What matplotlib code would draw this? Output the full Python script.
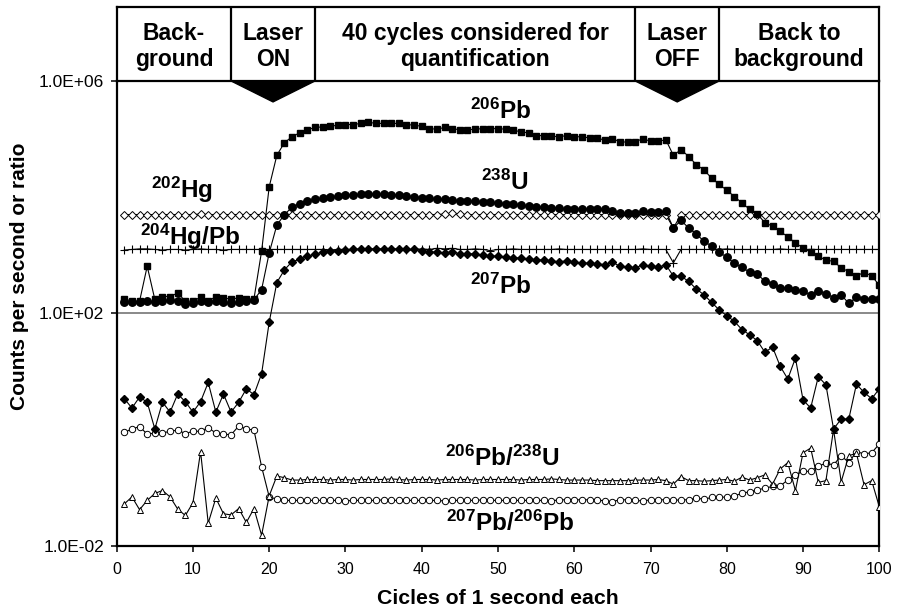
import numpy as np
import matplotlib
matplotlib.use("Agg")
import matplotlib.pyplot as plt
from matplotlib.patches import Polygon

# ---------------- data (log10 of counts per second / ratio) ----------------
cycles = list(range(1, 101))

pb206_log = [2.25, 2.21, 2.21, 2.81, 2.24, 2.29, 2.29, 2.35, 2.21, 2.21,
             2.28, 2.21, 2.29, 2.27, 2.24, 2.27, 2.24, 2.25, 3.07, 4.18,
             4.72, 4.94, 5.04, 5.11, 5.16, 5.20, 5.21, 5.22, 5.24, 5.25,
             5.25, 5.27, 5.29, 5.27, 5.27, 5.27, 5.27, 5.25, 5.24, 5.22,
             5.18, 5.17, 5.20, 5.18, 5.16, 5.16, 5.17, 5.18, 5.18, 5.18,
             5.17, 5.16, 5.12, 5.11, 5.06, 5.06, 5.05, 5.04, 5.06, 5.04,
             5.04, 5.02, 5.02, 4.98, 5.01, 4.95, 4.95, 4.95, 5.01, 4.96,
             4.96, 4.99, 4.72, 4.82, 4.70, 4.56, 4.47, 4.33, 4.22, 4.12,
             4.01, 3.90, 3.79, 3.71, 3.56, 3.50, 3.41, 3.32, 3.21, 3.13,
             3.05, 2.99, 2.91, 2.90, 2.78, 2.72, 2.65, 2.70, 2.65, 2.48]

u238_log = [2.20, 2.19, 2.20, 2.22, 2.19, 2.21, 2.23, 2.22, 2.16, 2.17,
            2.21, 2.20, 2.22, 2.19, 2.18, 2.20, 2.21, 2.23, 2.41, 3.04,
            3.52, 3.70, 3.83, 3.89, 3.93, 3.96, 3.98, 4.00, 4.02, 4.03,
            4.04, 4.05, 4.05, 4.05, 4.05, 4.04, 4.03, 4.02, 4.01, 3.99,
            3.98, 3.97, 3.96, 3.95, 3.94, 3.93, 3.93, 3.92, 3.91, 3.90,
            3.89, 3.88, 3.86, 3.84, 3.83, 3.83, 3.82, 3.81, 3.80, 3.79,
            3.80, 3.79, 3.79, 3.79, 3.76, 3.72, 3.72, 3.72, 3.76, 3.74,
            3.74, 3.76, 3.47, 3.60, 3.47, 3.37, 3.24, 3.16, 3.05, 2.97,
            2.86, 2.79, 2.71, 2.68, 2.55, 2.51, 2.44, 2.44, 2.41, 2.38,
            2.32, 2.38, 2.34, 2.27, 2.32, 2.17, 2.28, 2.25, 2.25, 2.24]

pb207_log = [0.53, 0.37, 0.56, 0.47, 0.01, 0.47, 0.30, 0.61, 0.48, 0.30,
             0.48, 0.81, 0.30, 0.61, 0.30, 0.47, 0.70, 0.60, 0.96, 1.85,
             2.53, 2.75, 2.89, 2.93, 2.98, 3.02, 3.05, 3.07, 3.08, 3.09,
             3.10, 3.11, 3.11, 3.11, 3.11, 3.11, 3.11, 3.10, 3.10, 3.08,
             3.06, 3.05, 3.04, 3.05, 3.03, 3.03, 3.02, 3.00, 2.99, 2.98,
             2.97, 2.96, 2.95, 2.93, 2.92, 2.92, 2.90, 2.89, 2.90, 2.88,
             2.87, 2.86, 2.85, 2.84, 2.88, 2.81, 2.79, 2.78, 2.84, 2.81,
             2.79, 2.84, 2.64, 2.64, 2.55, 2.42, 2.32, 2.19, 2.06, 1.96,
             1.86, 1.72, 1.63, 1.53, 1.33, 1.42, 1.09, 0.87, 1.23, 0.51,
             0.37, 0.91, 0.77, 0.01, 0.18, 0.18, 0.78, 0.64, 0.53, 0.70]

hg202_log = [3.70, 3.70, 3.70, 3.70, 3.70, 3.70, 3.70, 3.70, 3.70, 3.70,
             3.71, 3.70, 3.70, 3.70, 3.70, 3.70, 3.70, 3.70, 3.70, 3.70,
             3.70, 3.70, 3.70, 3.70, 3.70, 3.70, 3.70, 3.69, 3.70, 3.70,
             3.70, 3.70, 3.70, 3.70, 3.70, 3.70, 3.70, 3.70, 3.70, 3.70,
             3.70, 3.70, 3.71, 3.72, 3.71, 3.70, 3.70, 3.70, 3.70, 3.70,
             3.70, 3.70, 3.70, 3.70, 3.70, 3.70, 3.70, 3.70, 3.70, 3.70,
             3.70, 3.70, 3.70, 3.70, 3.70, 3.70, 3.70, 3.70, 3.70, 3.70,
             3.70, 3.70, 3.47, 3.70, 3.70, 3.70, 3.70, 3.70, 3.70, 3.70,
             3.70, 3.70, 3.70, 3.70, 3.70, 3.70, 3.70, 3.70, 3.70, 3.70,
             3.70, 3.70, 3.70, 3.70, 3.70, 3.70, 3.70, 3.70, 3.70, 3.70]

hg204pb_log = [3.09, 3.10, 3.11, 3.11, 3.10, 3.09, 3.10, 3.10, 3.09, 3.10,
               3.11, 3.10, 3.10, 3.09, 3.10, 3.10, 3.10, 3.10, 3.10, 3.10,
               3.10, 3.10, 3.10, 3.10, 3.10, 3.10, 3.10, 3.09, 3.10, 3.10,
               3.10, 3.10, 3.10, 3.10, 3.10, 3.10, 3.10, 3.09, 3.10, 3.11,
               3.10, 3.12, 3.11, 3.12, 3.10, 3.10, 3.11, 3.10, 3.08, 3.10,
               3.10, 3.11, 3.10, 3.10, 3.10, 3.10, 3.10, 3.11, 3.10, 3.10,
               3.10, 3.10, 3.10, 3.10, 3.10, 3.10, 3.10, 3.10, 3.11, 3.10,
               3.10, 3.10, 2.87, 3.10, 3.10, 3.10, 3.10, 3.10, 3.10, 3.11,
               3.10, 3.10, 3.10, 3.10, 3.10, 3.10, 3.11, 3.10, 3.10, 3.10,
               3.10, 3.10, 3.10, 3.10, 3.10, 3.10, 3.10, 3.10, 3.10, 3.10]

pb206_u238_log = [-1.28, -1.16, -1.38, -1.22, -1.10, -1.05, -1.16, -1.37, -1.48, -1.26,
                  -0.38, -1.61, -1.18, -1.45, -1.47, -1.36, -1.60, -1.36, -1.82, -1.14,
                  -0.80, -0.83, -0.87, -0.87, -0.86, -0.86, -0.86, -0.87, -0.86, -0.86,
                  -0.87, -0.86, -0.86, -0.86, -0.86, -0.85, -0.86, -0.87, -0.86, -0.86,
                  -0.86, -0.87, -0.86, -0.86, -0.86, -0.86, -0.87, -0.86, -0.86, -0.86,
                  -0.86, -0.86, -0.87, -0.86, -0.86, -0.86, -0.85, -0.86, -0.87, -0.87,
                  -0.87, -0.87, -0.88, -0.88, -0.88, -0.88, -0.88, -0.87, -0.87, -0.87,
                  -0.86, -0.88, -0.94, -0.81, -0.88, -0.88, -0.89, -0.88, -0.87, -0.86,
                  -0.89, -0.82, -0.87, -0.83, -0.78, -0.94, -0.68, -0.57, -1.05, -0.40,
                  -0.32, -0.91, -0.88, 0.00, -0.90, -0.45, -0.41, -0.95, -0.88, -1.33]

pb207_pb206_log = [-0.05, 0.01, 0.05, -0.08, -0.06, -0.06, -0.03, -0.01, -0.07, -0.03,
                   -0.03, 0.03, -0.06, -0.08, -0.09, 0.06, 0.01, -0.01, -0.64, -1.16,
                   -1.20, -1.22, -1.22, -1.22, -1.22, -1.22, -1.22, -1.22, -1.22, -1.23,
                   -1.22, -1.22, -1.22, -1.22, -1.21, -1.22, -1.22, -1.22, -1.22, -1.22,
                   -1.22, -1.22, -1.23, -1.22, -1.22, -1.22, -1.22, -1.21, -1.22, -1.22,
                   -1.22, -1.22, -1.22, -1.22, -1.22, -1.22, -1.23, -1.21, -1.21, -1.21,
                   -1.21, -1.21, -1.21, -1.23, -1.24, -1.21, -1.21, -1.22, -1.23, -1.21,
                   -1.21, -1.21, -1.22, -1.21, -1.21, -1.18, -1.20, -1.17, -1.17, -1.16,
                   -1.14, -1.10, -1.07, -1.04, -1.01, -0.98, -0.97, -0.87, -0.78, -0.72,
                   -0.72, -0.63, -0.58, -0.61, -0.45, -0.57, -0.38, -0.42, -0.40, -0.25]

y_ticks = [1e-2, 1e2, 1e6]
y_ticklabels = ["1.0E-02", "1.0E+02", "1.0E+06"]
x_ticks = [0, 10, 20, 30, 40, 50, 60, 70, 80, 90, 100]

header_bounds = [0, 15, 26, 68, 79, 100]
header_labels = ["Back-\nground", "Laser\nON", "40 cycles considered for\nquantification",
                 "Laser\nOFF", "Back to\nbackground"]
laser_segments = [(15, 26), (68, 79)]   # header cells that carry a black arrow

series_labels = [
    ("$^{206}$Pb", 50.3, 5.48),
    ("$^{238}$U", 50.9, 4.25),
    ("$^{202}$Hg", 8.5, 4.13),
    ("$^{204}$Hg/Pb", 9.6, 3.31),
    ("$^{207}$Pb", 50.3, 2.46),
    ("$^{206}$Pb/$^{238}$U", 50.5, -0.49),
    ("$^{207}$Pb/$^{206}$Pb", 51.6, -1.61),
]

# ---------------- style ----------------
plt.rcParams['font.family'] = ['Liberation Sans', 'DejaVu Sans']
plt.rcParams['mathtext.fontset'] = 'custom'
plt.rcParams['mathtext.rm'] = 'Liberation Sans:bold'
plt.rcParams['mathtext.it'] = 'Liberation Sans:bold'
plt.rcParams['mathtext.bf'] = 'Liberation Sans:bold'

W, H = 898, 613
fig = plt.figure(figsize=(W / 100, H / 100), dpi=100)
fig.patch.set_facecolor('white')

L, R, T, B = 116.7, 879.3, 81.0, 545.7
HT = 7.0
ax = fig.add_axes([L / W, 1 - B / H, (R - L) / W, (B - T) / H])
hx = fig.add_axes([L / W, 1 - T / H, (R - L) / W, (T - HT) / H])

x = np.array(cycles)
lw = 0.8

def v(a):
    return 10 ** np.array(a)

ax.plot(x, v(pb207_pb206_log), '-', color='black', lw=lw, marker='o', ms=4.6,
        mfc='white', mec='black', mew=0.7, zorder=3)
ax.plot(x, v(pb206_u238_log), '-', color='black', lw=lw, marker='^', ms=4.6,
        mfc='white', mec='black', mew=0.7, zorder=3)
ax.plot(x, v(hg204pb_log), '-', color='black', lw=lw, marker='+', ms=5.5,
        mec='black', mew=0.8, zorder=3)
ax.plot(x, v(hg202_log), '-', color='black', lw=lw, marker='D', ms=3.9,
        mfc='white', mec='black', mew=0.7, zorder=3)
ax.plot(x, v(pb207_log), '-', color='black', lw=lw, marker='D', ms=3.6,
        mfc='black', mec='black', zorder=4)
ax.plot(x, v(u238_log), '-', color='black', lw=lw, marker='o', ms=5.4,
        mfc='black', mec='black', zorder=4)
ax.plot(x, v(pb206_log), '-', color='black', lw=lw, marker='s', ms=5.0,
        mfc='black', mec='black', zorder=5)

ax.set_yscale('log')
ax.set_ylim(1e-2, 1e6)
ax.set_xlim(0, 100)
ax.set_yticks(y_ticks)
ax.set_yticklabels(y_ticklabels)
ax.yaxis.set_minor_locator(matplotlib.ticker.NullLocator())
ax.set_xticks(x_ticks)
ax.axhline(1e2, color='#808080', lw=1.3, zorder=1)

ax.tick_params(axis='both', direction='out', length=4, width=1.1,
               colors='black')
ax.tick_params(axis='x', pad=8, labelsize=11.5)
ax.tick_params(axis='y', pad=5, labelsize=12.5)
for side in ['left', 'bottom', 'right']:
    ax.spines[side].set_linewidth(1.6)
ax.spines['top'].set_visible(False)

for text, xx, ly in series_labels:
    ax.text(xx, 10 ** ly, text, ha='center', va='center', fontsize=17.5,
            fontweight='bold', zorder=6)

# black arrows under the laser cells
for a, b in laser_segments:
    tri = Polygon([(a, 1e6), (b, 1e6), ((a + b) / 2, 10 ** 5.64)], closed=True,
                  facecolor='black', edgecolor='black', clip_on=False, zorder=7)
    ax.add_patch(tri)

# header boxes
hx.set_xlim(0, 100)
hx.set_ylim(0, 1)
hx.set_xticks([])
hx.set_yticks([])
for s in hx.spines.values():
    s.set_linewidth(1.6)
for b in header_bounds[1:-1]:
    hx.axvline(b, color='black', lw=1.6)
for i, lab in enumerate(header_labels):
    cx = (header_bounds[i] + header_bounds[i + 1]) / 2
    hx.text(cx, 0.47, lab, ha='center', va='center', fontsize=16.5,
            fontweight='bold', linespacing=1.15)

fig.text(20 / W, 1 - 276 / H, "Counts per second or ratio", rotation=90,
         ha='center', va='center', fontsize=15, fontweight='bold')
fig.text(498 / W, 1 - 599 / H, "Cicles of 1 second each",
         ha='center', va='center', fontsize=15.3, fontweight='bold')

fig.savefig('out.png', dpi=100)
